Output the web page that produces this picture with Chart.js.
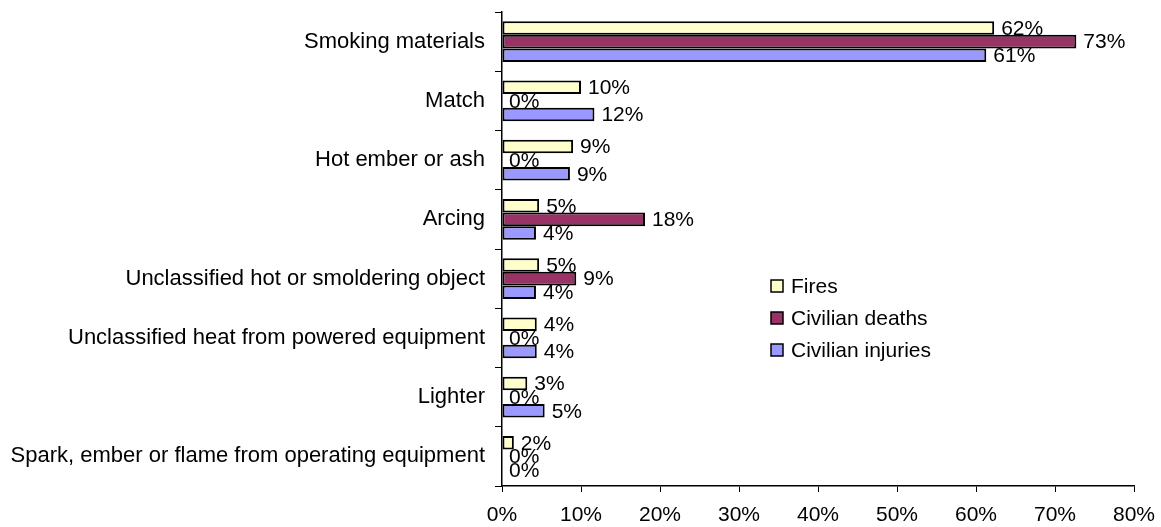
<!DOCTYPE html>
<html>
<head>
<meta charset="utf-8">
<script src="https://cdn.jsdelivr.net/npm/chart.js@4"></script>
<style>
  html, body { margin: 0; padding: 0; background: #fff; }
  #wrap { width: 1161px; height: 527px; position: relative; }
</style>
</head>
<body>
<div id="wrap"><canvas id="c" width="1161" height="527"></canvas></div>
<script>
const categories = [
  "Smoking materials",
  "Match",
  "Hot ember or ash",
  "Arcing",
  "Unclassified hot or smoldering object",
  "Unclassified heat from powered equipment",
  "Lighter",
  "Spark, ember or flame from operating equipment"
];
const seriesNames = ["Fires", "Civilian deaths", "Civilian injuries"];
const fires    = [62.3, 10.0, 9.0, 4.7, 4.7, 4.4, 3.2, 1.5];
const deaths   = [72.7, 0, 0, 18.1, 9.4, 0, 0, 0];
const injuries = [61.3, 11.7, 8.6, 4.3, 4.3, 4.4, 5.4, 0];
const xTicks = [0, 10, 20, 30, 40, 50, 60, 70, 80];

const colors = ["#FFFFCC", "#993366", "#9999FF"];
const FONT = '"Liberation Sans", Arial, sans-serif';

const valueLabels = {
  id: 'valueLabels',
  afterDatasetsDraw(chart) {
    const ctx = chart.ctx;
    ctx.save();
    ctx.font = '21px ' + FONT;
    ctx.fillStyle = '#000';
    ctx.textAlign = 'left';
    ctx.textBaseline = 'middle';
    chart.data.datasets.forEach((ds, i) => {
      const meta = chart.getDatasetMeta(i);
      meta.data.forEach((el, j) => {
        ctx.fillText(Math.round(ds.data[j]) + '%', el.x + 7, el.y + 1);
      });
    });
    ctx.restore();
  }
};

const innerLegend = {
  id: 'innerLegend',
  afterDraw(chart) {
    const ctx = chart.ctx;
    ctx.save();
    ctx.font = '21px ' + FONT;
    ctx.textAlign = 'left';
    ctx.textBaseline = 'middle';
    const x0 = 771, y0 = 286, step = 32, bs = 12;
    chart.data.datasets.forEach((ds, i) => {
      const y = y0 + i * step;
      ctx.fillStyle = ds.backgroundColor;
      ctx.fillRect(x0, y - bs / 2, bs, bs);
      ctx.strokeStyle = '#000';
      ctx.lineWidth = 1.5;
      ctx.strokeRect(x0, y - bs / 2, bs, bs);
      ctx.fillStyle = '#000';
      ctx.fillText(ds.label, x0 + 20, y + 1);
    });
    ctx.restore();
  }
};

new Chart(document.getElementById('c'), {
  type: 'bar',
  data: {
    labels: categories,
    datasets: [
      { label: seriesNames[0], data: fires, backgroundColor: colors[0] },
      { label: seriesNames[1], data: deaths, backgroundColor: colors[1] },
      { label: seriesNames[2], data: injuries, backgroundColor: colors[2] }
    ]
  },
  options: {
    indexAxis: 'y',
    responsive: false,
    animation: false,
    events: [],
    layout: { padding: { top: 12, right: 27, left: 0, bottom: 0 } },
    datasets: {
      bar: {
        borderColor: '#000',
        borderWidth: 2,
        categoryPercentage: 0.69,
        barPercentage: 1.0,
        borderSkipped: false
      }
    },
    plugins: {
      legend: { display: false },
      tooltip: { enabled: false }
    },
    scales: {
      x: {
        min: 0, max: 80,
        afterBuildTicks(scale) { scale.ticks = xTicks.map(v => ({ value: v })); },
        afterFit(scale) { scale.height = 41; scale.paddingLeft = 0; scale.paddingRight = 0; },
        border: { display: true, color: '#000', width: 1.5 },
        grid: { display: true, drawOnChartArea: false, drawTicks: true, tickLength: 6, color: '#000', lineWidth: 1 },
        ticks: {
          color: '#000',
          font: { family: FONT, size: 21 },
          padding: 11,
          maxRotation: 0,
          callback: (v) => v + '%'
        }
      },
      y: {
        afterFit(scale) { scale.width = 502; scale.paddingTop = 0; scale.paddingBottom = 0; },
        border: { display: true, color: '#000', width: 1.5 },
        grid: { display: true, drawOnChartArea: false, drawTicks: true, tickLength: 7, color: '#000', lineWidth: 1, offset: true },
        ticks: {
          color: '#000',
          font: { family: FONT, size: 22 },
          padding: 10,
          autoSkip: false
        }
      }
    }
  },
  plugins: [valueLabels, innerLegend]
});
</script>
</body>
</html>
